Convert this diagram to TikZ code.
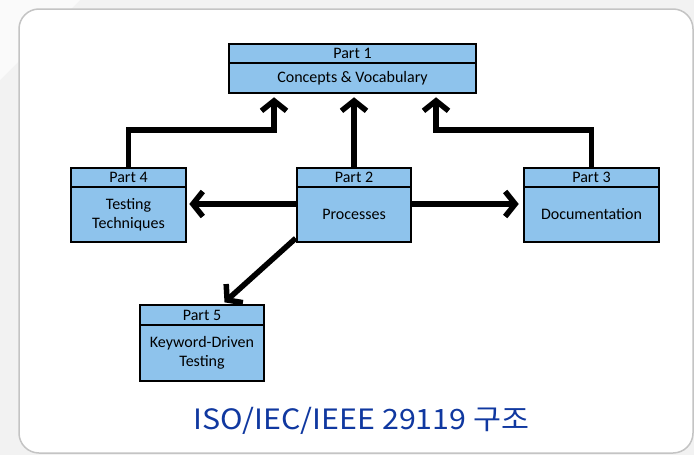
\documentclass[tikz,border=0pt]{standalone}
\usepackage{fontspec}
\setmainfont{Carlito}
\newfontfamily\titlefont{Noto Sans CJK KR}
\usetikzlibrary{arrows.meta}
\definecolor{boxblue}{RGB}{142,195,236}
\definecolor{titleblue}{RGB}{16,56,160}
\definecolor{bggray}{RGB}{242,242,242}
\definecolor{bglight}{RGB}{250,250,250}
\definecolor{cardline}{RGB}{196,196,196}
\begin{document}
\begin{tikzpicture}[x=1pt,y=-1pt,
  partbox/.style={draw=black, line width=2.6pt, fill=boxblue, inner sep=0pt,
    font=\fontsize{16}{19}\selectfont, align=center},
  conn/.style={line width=5.5pt, -{Straight Barb[length=10pt,width=25pt]}, line join=miter}
]
\useasboundingbox (0,0) rectangle (694,455);
\fill[bggray] (0,0) rectangle (694,455);
\fill[bglight] (0,0) -- (80,0) -- (0,80) -- cycle;
\draw[cardline, line width=1.5pt, fill=white, rounded corners=20pt] (19,9) rectangle (693,453);

% Part 1
\node[partbox, minimum width=247pt, minimum height=19pt] (p1h) at (352.5,53.5) {Part 1};
\node[partbox, minimum width=247pt, minimum height=30pt] (p1b) at (352.5,78) {Concepts \& Vocabulary};
% Part 4
\node[partbox, minimum width=115pt, minimum height=19pt] (p4h) at (128.5,177.5) {Part 4};
\node[partbox, minimum width=115pt, minimum height=55pt] (p4b) at (128.5,214.5) {Testing\\Techniques};
% Part 2
\node[partbox, minimum width=114pt, minimum height=19pt] (p2h) at (354,177.5) {Part 2};
\node[partbox, minimum width=114pt, minimum height=55pt] (p2b) at (354,214.5) {Processes};
% Part 3
\node[partbox, minimum width=135pt, minimum height=19pt] (p3h) at (591.5,177.5) {Part 3};
\node[partbox, minimum width=135pt, minimum height=55pt] (p3b) at (591.5,214.5) {Documentation};
% Part 5
\node[partbox, minimum width=124pt, minimum height=20pt] (p5h) at (202,315) {Part 5};
\node[partbox, minimum width=124pt, minimum height=56pt] (p5b) at (202,353) {Keyword-Driven\\Testing};

% connectors
\coordinate (c4) at (128.5,130);
\coordinate (c3) at (591.5,130);
\draw[conn, shorten >=3pt] (p4h.north) -- (c4) -| ([xshift=-78.5pt]p1b.south);
\draw[conn, shorten >=3pt] (p2h.north) -- (p2h.north |- p1b.south);
\draw[conn, shorten >=3pt] (p3h.north) -- (c3) -| ([xshift=83.5pt]p1b.south);
\draw[conn, shorten >=2pt] ([yshift=10.5pt]p2b.west) -- ([yshift=10.5pt]p4b.east);
\draw[conn, shorten >=4pt] ([yshift=10.5pt]p2b.east) -- ([yshift=10.5pt]p3b.west);
\draw[conn, shorten >=2pt] ([yshift=5pt]p2b.south west) -- ([xshift=21pt]p5h.north);

% title
\node[anchor=base, inner sep=0pt, text=titleblue, font=\titlefont\fontsize{28}{30}\selectfont] (title) at (361.5,429)
  {\scalebox{1.085}[1]{ISO/IEC/IEEE 29119 구조}};
\end{tikzpicture}
\end{document}
